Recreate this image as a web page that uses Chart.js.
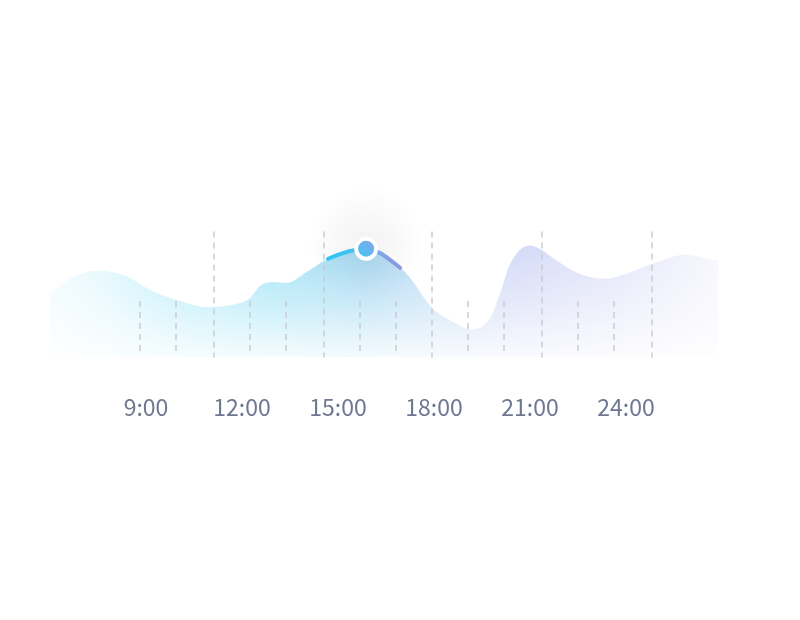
<!DOCTYPE html>
<html>
<head>
<meta charset="utf-8">
<script src="https://cdn.jsdelivr.net/npm/chart.js@4"></script>
<style>
  html, body { margin: 0; padding: 0; background: #fff; }
  #wrap { width: 800px; height: 620px; position: relative; }
</style>
</head>
<body>
<div id="wrap"><canvas id="chart"></canvas></div>
<script>
"use strict"

// curve samples, hour of day -> level
const hours  = [6.0, 6.63, 7.5, 8.34, 9.13, 10.06, 10.9, 11.94, 12.25, 12.56, 12.97, 13.4, 14.03, 14.69, 15.88, 16.94, 17.25, 17.94, 18.5, 19.19, 19.75, 20.06, 20.38, 21.0, 21.84, 22.47, 23.28, 24.84, 25.84, 26.88];
const values = [31.5, 39, 43, 40.5, 33.5, 28, 25, 27, 29.5, 35.5, 37.5, 37, 42.5, 49, 54, 44.5, 39.5, 24.5, 18.5, 14, 19.5, 31.5, 46.5, 55.5, 48, 42, 39, 46.5, 51, 48];

// x axis labels
const tickHours  = [9, 12, 15, 18, 21, 24];
const tickLabels = ['9:00', '12:00', '15:00', '18:00', '21:00', '24:00'];

// dashed guides (major = long)
const gridHours = [8.81, 9.94, 11.13, 12.25, 13.38, 14.56, 15.69, 16.81, 17.94, 19.06, 20.19, 21.38, 22.5, 23.63, 24.81];
const gridMajor = [false, false, true, false, false, true, false, false, true, false, false, true, false, false, true];

// highlighted stretch and marker
const markerHour = 15.88;
const highlightFrom = 14.69;
const highlightTo = 16.94;

const markerIdx = hours.indexOf(markerHour);
const hiStart = hours.indexOf(highlightFrom);
const hiEnd = hours.indexOf(highlightTo);

const points = hours.map((h, i) => ({ x: h, y: values[i] }));
const canvas = document.getElementById('chart');
const c2d = canvas.getContext('2d');
const ok = (...n) => n.every(Number.isFinite);

let patternCache = null;
function areaFill(ctx) {
  const chart = ctx.chart;
  const area = chart.chartArea;
  if (!area || !ok(area.left, area.right, area.bottom) || area.right <= area.left) return 'rgba(180,230,248,0.5)';
  const key = chart.width + 'x' + chart.height + ':' + area.left + ',' + area.right + ',' + area.bottom;
  if (patternCache && patternCache.key === key) return patternCache.pat;
  const off = document.createElement('canvas');
  off.width = chart.width;
  off.height = chart.height;
  const g = off.getContext('2d');
  const hg = g.createLinearGradient(area.left, 0, area.right, 0);
  hg.addColorStop(0.00, 'rgb(242,251,254)');
  hg.addColorStop(0.08, 'rgb(226,247,253)');
  hg.addColorStop(0.20, 'rgb(186,236,250)');
  hg.addColorStop(0.33, 'rgb(166,229,247)');
  hg.addColorStop(0.47, 'rgb(168,218,243)');
  hg.addColorStop(0.58, 'rgb(196,222,246)');
  hg.addColorStop(0.70, 'rgb(213,218,247)');
  hg.addColorStop(0.83, 'rgb(226,229,249)');
  hg.addColorStop(1.00, 'rgb(247,247,253)');
  g.fillStyle = hg;
  g.fillRect(0, 0, off.width, off.height);
  g.globalCompositeOperation = 'destination-in';
  const vg = g.createLinearGradient(0, area.bottom - 110, 0, area.bottom);
  vg.addColorStop(0, 'rgba(0,0,0,1)');
  vg.addColorStop(0.5, 'rgba(0,0,0,0.6)');
  vg.addColorStop(1, 'rgba(0,0,0,0.12)');
  g.fillStyle = vg;
  g.fillRect(0, 0, off.width, off.height);
  const pat = chart.ctx.createPattern(off, 'no-repeat');
  patternCache = { key, pat };
  return pat;
}

function segmentColor(ctx) {
  const i = ctx.p0DataIndex;
  if (i < hiStart || i >= hiEnd) return 'rgba(0,0,0,0)';
  if (!ctx.p0 || !ctx.p1 || !ok(ctx.p0.x, ctx.p1.x)) return '#5fb8ef';
  const gr = c2d.createLinearGradient(ctx.p0.x, 0, ctx.p1.x, 0);
  if (i < markerIdx) {
    gr.addColorStop(0, '#30c6f0');
    gr.addColorStop(1, '#4fbcf0');
  } else {
    gr.addColorStop(0, '#6fb0ee');
    gr.addColorStop(1, '#8d98e0');
  }
  return gr;
}

function markerFill(ctx) {
  const chart = ctx.chart;
  if (!chart.scales || !chart.scales.x || !chart.scales.y) return '#62b4f0';
  const x = chart.scales.x.getPixelForValue(markerHour);
  const y = chart.scales.y.getPixelForValue(values[markerIdx]);
  if (!ok(x, y)) return '#62b4f0';
  const gr = chart.ctx.createLinearGradient(x - 8, y + 8, x + 8, y - 8);
  gr.addColorStop(0, '#3fc8f2');
  gr.addColorStop(1, '#8aa4ee');
  return gr;
}

// soft haze behind the marker, drawn right after the area
const glowPlugin = {
  id: 'glow',
  afterDatasetDraw(chart, args) {
    if (args.index !== 1) return;
    const pt = chart.getDatasetMeta(0).data[markerIdx];
    if (!pt || !ok(pt.x, pt.y)) return;
    const { ctx } = chart;
    const cx = pt.x, cy = pt.y - 4;
    const rg = ctx.createRadialGradient(cx, cy, 0, cx, cy, 58);
    rg.addColorStop(0, 'rgba(80,80,100,0.07)');
    rg.addColorStop(0.5, 'rgba(80,80,100,0.04)');
    rg.addColorStop(1, 'rgba(80,80,100,0)');
    ctx.save();
    ctx.fillStyle = rg;
    ctx.fillRect(cx - 60, cy - 60, 120, 120);
    ctx.restore();
  }
};

// dashed vertical guides
const guidePlugin = {
  id: 'guides',
  afterDatasetsDraw(chart) {
    const { ctx, scales: { x, y } } = chart;
    ctx.save();
    ctx.strokeStyle = 'rgba(200,202,208,0.72)';
    ctx.lineWidth = 2;
    ctx.setLineDash([6, 5]);
    gridHours.forEach((h, i) => {
      const px = Math.round(x.getPixelForValue(h));
      const top = y.getPixelForValue(gridMajor[i] ? 62.5 : 28);
      const bottom = y.getPixelForValue(gridMajor[i] ? 0 : 1);
      ctx.beginPath();
      ctx.moveTo(px, top);
      ctx.lineTo(px, bottom);
      ctx.stroke();
    });
    ctx.restore();
  }
};

new Chart(canvas, {
  type: 'line',
  data: {
    datasets: [
      {
        data: points,
        fill: false,
        borderWidth: 4,
        borderCapStyle: 'round',
        cubicInterpolationMode: 'monotone',
        segment: { borderColor: segmentColor },
        pointRadius: ctx => ctx.dataIndex === markerIdx ? 10 : 0,
        pointBorderWidth: 4,
        pointBorderColor: '#ffffff',
        pointBackgroundColor: markerFill
      },
      {
        data: points,
        fill: 'start',
        borderWidth: 0,
        pointRadius: 0,
        cubicInterpolationMode: 'monotone',
        backgroundColor: areaFill
      }
    ]
  },
  options: {
    responsive: true,
    maintainAspectRatio: false,
    animation: false,
    events: [],
    layout: { padding: { left: 50, right: 78, top: 156, bottom: 171 } },
    plugins: { legend: { display: false }, tooltip: { enabled: false } },
    scales: {
      x: {
        type: 'linear',
        min: 6,
        max: 27,
        grid: { display: false },
        border: { display: false },
        afterBuildTicks: s => { s.ticks = tickHours.map(v => ({ value: v })); },
        ticks: {
          padding: 28,
          color: '#6f7791',
          font: { family: '"Noto Sans CJK SC", "Noto Sans", sans-serif', size: 23 },
          callback: v => tickLabels[tickHours.indexOf(v)] || ''
        }
      },
      y: { display: false, min: 0, max: 100 }
    }
  },
  plugins: [glowPlugin, guidePlugin]
});
</script>
</body>
</html>
